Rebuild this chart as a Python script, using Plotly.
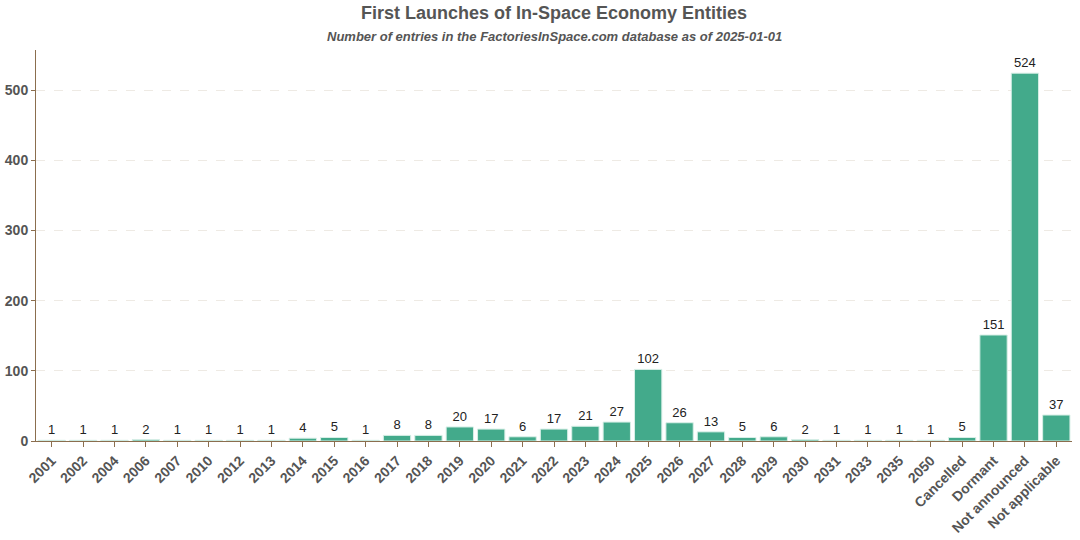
import plotly.graph_objects as go

categories = ["2001", "2002", "2004", "2006", "2007", "2010", "2012", "2013", "2014", "2015",
              "2016", "2017", "2018", "2019", "2020", "2021", "2022", "2023", "2024", "2025",
              "2026", "2027", "2028", "2029", "2030", "2031", "2033", "2035", "2050",
              "Cancelled", "Dormant", "Not announced", "Not applicable"]
counts = [1, 1, 1, 2, 1, 1, 1, 1, 4, 5,
          1, 8, 8, 20, 17, 6, 17, 21, 27, 102,
          26, 13, 5, 6, 2, 1, 1, 1, 1,
          5, 151, 524, 37]

title_text = "First Launches of In-Space Economy Entities"
subtitle_text = "Number of entries in the FactoriesInSpace.com database as of 2025-01-01"

FONT = "Liberation Sans, Arial, sans-serif"

fig = go.Figure(go.Bar(
    x=categories, y=counts,
    marker=dict(color="#43AA8B", line=dict(color="#D8EFE7", width=1)),
    text=[str(c) for c in counts], textposition="outside",
    textfont=dict(family=FONT, size=13, color="#222222"),
    cliponaxis=False,
))

fig.update_layout(
    width=1080, height=540,
    margin=dict(l=36, r=8, t=50, b=99, autoexpand=False),
    paper_bgcolor="white", plot_bgcolor="white",
    bargap=0.13,
    showlegend=False,
    font=dict(family=FONT, color="#555555"),
)
fig.add_annotation(text="<b>" + title_text + "</b>", xref="paper", yref="paper",
                   x=0.5, y=1, yshift=37, xanchor="center", yanchor="middle",
                   showarrow=False, font=dict(size=18, color="#555555"))
fig.add_annotation(text="<b><i>" + subtitle_text + "</i></b>", xref="paper", yref="paper",
                   x=0.5, y=1, yshift=14, xanchor="center", yanchor="middle",
                   showarrow=False, font=dict(size=13, color="#555555"))

fig.update_xaxes(
    type="category", tickangle=-45, automargin=False,
    showline=True, linecolor="#8B6E4E", linewidth=1,
    ticks="outside", tickcolor="#8B6E4E", ticklen=5,
    tickfont=dict(size=14, color="#555555", family=FONT, weight="bold"),
    showgrid=False,
)
fig.update_yaxes(
    range=[0, 557], automargin=False,
    tickvals=[0, 100, 200, 300, 400, 500],
    showline=True, linecolor="#8B6E4E", linewidth=1,
    ticks="outside", tickcolor="#8B6E4E", ticklen=4,
    tickfont=dict(size=14, color="#555555", family=FONT, weight="bold"),
    showgrid=True, gridcolor="#EEEAE4", griddash="dash", gridwidth=1,
    zeroline=False,
)

fig.write_html("out.html",
               config={"displayModeBar": False},
               post_script="document.body.style.margin='0';document.body.style.padding='0';")
